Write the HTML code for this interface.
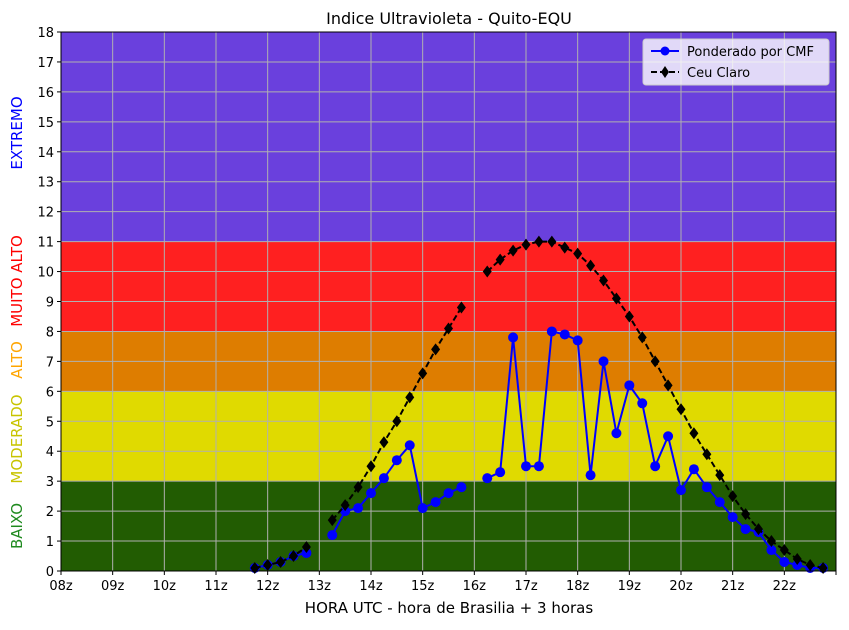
<!DOCTYPE html>
<html><head><meta charset="utf-8"><style>
body{margin:0;background:#fff;font-family:"Liberation Sans","DejaVu Sans",sans-serif}
svg text{font-family:"DejaVu Sans","Liberation Sans",sans-serif}
</style></head><body>
<svg id="chart" width="849" height="625" xmlns="http://www.w3.org/2000/svg">
<text x="449" y="24" text-anchor="middle" font-size="16">Indice Ultravioleta - Quito-EQU</text>
<g id="bands"></g><g id="grid"></g><g id="series"></g><g id="axes"></g>
<text x="449" y="613" text-anchor="middle" font-size="15">HORA UTC - hora de Brasilia + 3 horas</text>
<text transform="translate(22,526) rotate(-90)" text-anchor="middle" font-size="15" fill="#1f8a1f">BAIXO</text>
<text transform="translate(22,439) rotate(-90)" text-anchor="middle" font-size="15" fill="#c8c400">MODERADO</text>
<text transform="translate(22,360) rotate(-90)" text-anchor="middle" font-size="15" fill="#ffa500">ALTO</text>
<text transform="translate(22,281) rotate(-90)" text-anchor="middle" font-size="15" fill="#ff0000">MUITO ALTO</text>
<text transform="translate(22,133) rotate(-90)" text-anchor="middle" font-size="15" fill="#0000ff">EXTREMO</text>
<g>
<rect x="643" y="39" width="186" height="46" rx="3" fill="#fff" fill-opacity="0.8" stroke="#ccc"/>
<line x1="651" y1="51" x2="679" y2="51" stroke="#0000ff" stroke-width="2"/><circle cx="665" cy="51" r="4.5" fill="#0000ff"/>
<text x="687" y="56" font-size="13">Ponderado por CMF</text>
<line x1="651" y1="72" x2="679" y2="72" stroke="#000" stroke-width="2" stroke-dasharray="6,3"/><path d="M665,66 L669,72 L665,78 L661,72Z" fill="#000"/>
<text x="687" y="77" font-size="13">Ceu Claro</text>
</g>
</svg>
<script>
const hours=[11.75,12,12.25,12.5,12.75,13,13.25,13.5,13.75,14,14.25,14.5,14.75,15,15.25,15.5,15.75,16,16.25,16.5,16.75,17,17.25,17.5,17.75,18,18.25,18.5,18.75,19,19.25,19.5,19.75,20,20.25,20.5,20.75,21,21.25,21.5,21.75,22,22.25,22.5,22.75];
const clearSky=[0.1,0.2,0.3,0.5,0.8,null,1.7,2.2,2.8,3.5,4.3,5.0,5.8,6.6,7.4,8.1,8.8,null,10.0,10.4,10.7,10.9,11.0,11.0,10.8,10.6,10.2,9.7,9.1,8.5,7.8,7.0,6.2,5.4,4.6,3.9,3.2,2.5,1.9,1.4,1.0,0.7,0.4,0.2,0.1];
const weighted=[0.1,0.2,0.3,0.5,0.6,null,1.2,2.0,2.1,2.6,3.1,3.7,4.2,2.1,2.3,2.6,2.8,null,3.1,3.3,7.8,3.5,3.5,8.0,7.9,7.7,3.2,7.0,4.6,6.2,5.6,3.5,4.5,2.7,3.4,2.8,2.3,1.8,1.4,1.3,0.7,0.3,0.2,0.1,0.1];
const xTickLabels=['08z','09z','10z','11z','12z','13z','14z','15z','16z','17z','18z','19z','20z','21z','22z',''];
const yTicks=[0,1,2,3,4,5,6,7,8,9,10,11,12,13,14,15,16,17,18];
const bandLimits=[0,3,6,8,11,18];
const bandColors=['#225c02','#e0da00','#de7d00','#ff2020','#6a40dd'];
const bandNames=['baixo','moderado','alto','muito-alto','extremo'];
const X0=61,X1=836,Y0=571,Y1=32;
const xs=h=>X0+(h-8)*(X1-X0)/15, ys=v=>Y0-v*(Y0-Y1)/18;
const NS='http://www.w3.org/2000/svg';
function mk(tag,attrs,parent){const e=document.createElementNS(NS,tag);for(const k in attrs)e.setAttribute(k,attrs[k]);parent.appendChild(e);return e;}
const bands=document.getElementById('bands'),grid=document.getElementById('grid'),ser=document.getElementById('series'),axes=document.getElementById('axes');
for(let i=0;i<bandColors.length;i++){
 const r=mk('rect',{x:X0,y:ys(bandLimits[i+1]),width:X1-X0,height:ys(bandLimits[i])-ys(bandLimits[i+1]),fill:bandColors[i]},bands);
 
 
}
xTickLabels.forEach((l,i)=>{
 const x=xs(8+i);
 const g=mk('line',{x1:x,x2:x,y1:Y1,y2:Y0,stroke:'#b0b0b0','stroke-width':1},grid);
 
 
 mk('line',{x1:x,x2:x,y1:Y0,y2:Y0+4,stroke:'#000'},axes);
 const t=mk('text',{x:x,y:Y0+19,'text-anchor':'middle','font-size':13},axes);
 
 
 t.textContent=l;
});
yTicks.forEach(v=>{
 const y=ys(v);
 const g=mk('line',{x1:X0,x2:X1,y1:y,y2:y,stroke:'#b0b0b0','stroke-width':1},grid);
 
 
 mk('line',{x1:X0-4,x2:X0,y1:y,y2:y,stroke:'#000'},axes);
 const t=mk('text',{x:X0-7,y:y+5,'text-anchor':'end','font-size':13},axes);
 
 
 t.textContent=v;
});
const fr=mk('rect',{x:X0,y:Y1,width:X1-X0,height:Y0-Y1,fill:'none',stroke:'#000'},axes);


function segs(vals){const out=[];let cur=[];vals.forEach((v,i)=>{if(v==null){if(cur.length)out.push(cur);cur=[];}else cur.push([xs(hours[i]),ys(v)]);});if(cur.length)out.push(cur);return out;}
segs(weighted).forEach(s=>{const p=mk('polyline',{points:s.map(q=>q.join(',')).join(' '),fill:'none',stroke:'#0000ff','stroke-width':2},ser);
 
 });
weighted.forEach((v,i)=>{if(v==null)return;const c=mk('circle',{cx:xs(hours[i]),cy:ys(v),r:5,fill:'#0000ff'},ser);
 
 });
segs(clearSky).forEach(s=>{const p=mk('polyline',{points:s.map(q=>q.join(',')).join(' '),fill:'none',stroke:'#000','stroke-width':2,'stroke-dasharray':'6,3'},ser);
 
 });
clearSky.forEach((v,i)=>{if(v==null)return;const x=xs(hours[i]),y=ys(v);
 const d=mk('path',{d:`M${x},${y-6} L${x+4.5},${y} L${x},${y+6} L${x-4.5},${y}Z`,fill:'#000'},ser);
 
 });
</script>
</body></html>
